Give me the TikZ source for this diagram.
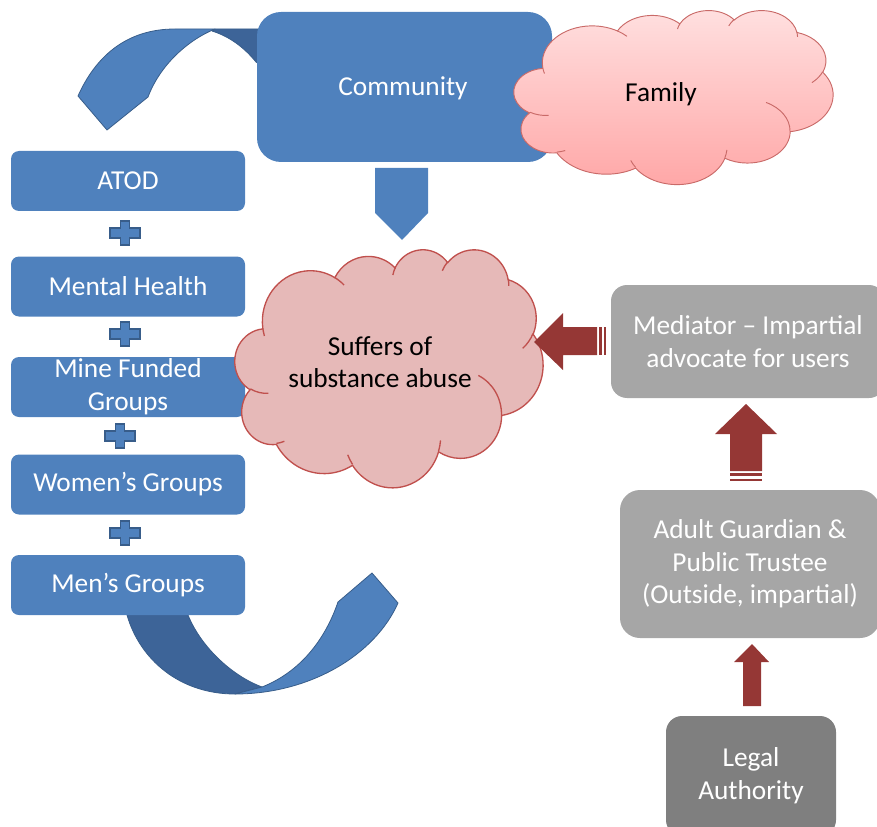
\documentclass[tikz,border=0pt]{standalone}
\usepackage{fontspec}
\setmainfont{Carlito}
\definecolor{pblue}{RGB}{79,129,189}
\definecolor{pbluedark}{RGB}{61,100,152}
\definecolor{pblueline}{RGB}{56,93,138}
\definecolor{pred}{RGB}{149,55,53}
\definecolor{pgray}{RGB}{166,166,166}
\definecolor{pgraydark}{RGB}{127,127,127}
\definecolor{cloudline}{RGB}{192,80,77}
\definecolor{cloudfill}{RGB}{230,185,184}
\definecolor{famtop}{RGB}{255,224,224}
\definecolor{fambot}{RGB}{255,166,166}
\newcommand\fs{\fontsize{20.5}{24.5}\selectfont}
\newcommand\cldarc[4]{arc[x radius=#1, y radius=#2, start angle={atan2(#1*sin(#3),#2*cos(#3))}, delta angle={mod(atan2(#1*sin(#3+#4),#2*cos(#3+#4))-atan2(#1*sin(#3),#2*cos(#3))+720,360)}]}
\newcommand\pptcloud[6]{%
\begin{scope}[shift={(#1,#2)},xscale=#3/432,yscale=#4/432]
\path[#5] (39,143.70) \cldarc{67.53}{91.90}{-190.4875}{123.7805}
 \cldarc{53.33}{72.67}{-144.1024}{89.9452}
 \cldarc{43.65}{59.45}{-145.8079}{99.7230}
 \cldarc{48.57}{65.95}{-130.9861}{117.2417}
 \cldarc{53.33}{72.73}{-78.7089}{109.0269}
 \cldarc{67.75}{92.20}{-46.2673}{130.2690}
 \cldarc{57.85}{78.67}{0.6250}{114.0333}
 \cldarc{67.52}{92.15}{22.4516}{115.1726}
 \cldarc{77.20}{105.43}{66.2426}{75.7110}
 \cldarc{43.60}{59.18}{-274.9421}{146.7356}
 \cldarc{43.45}{59.45}{-246.8285}{152.5170} -- cycle;
\path[#6] (46.93,261.77) \cldarc{43.45}{59.45}{86.7420}{26.4295}
 (69.28,348.99) \cldarc{43.60}{59.18}{73.6105}{11.4475}
 (164.78,390.90) \cldarc{67.52}{92.15}{137.6242}{14.0811}
 (288.27,347.51) \cldarc{67.52}{92.15}{6.4533}{15.9984}
 (341.29,229.54) \cldarc{57.85}{78.67}{-70.2924}{70.9174}
 (417.98,153.54) \cldarc{53.33}{72.73}{30.3180}{27.7515}
 (383.24,54.26) \cldarc{48.57}{65.95}{-13.7443}{14.8589}
 (290.78,39.52) \cldarc{48.57}{65.95}{-149.1815}{18.1954}
 (221.41,47.20) \cldarc{43.65}{59.45}{-163.4943}{17.6864}
 (140.00,51.92) \cldarc{67.53}{91.90}{-66.7070}{12.3194}
 (41.27,157.89) \cldarc{67.53}{91.90}{157.6544}{11.8582};
\end{scope}}
\tikzset{
  bluebox/.style={fill=pblue, rounded corners=6pt, text=white, font=\fs, align=center, inner sep=0pt,
    minimum width=234*0.75pt, minimum height=60*0.75pt},
  graybox/.style={fill=pgray, rounded corners=12pt, text=white, font=\fs, align=center, inner sep=0pt},
  ribbon/.style={fill=pblue, draw=pblueline, line width=0.6pt, line join=round},
  ribbondark/.style={fill=pbluedark, draw=pblueline, line width=0.6pt, line join=round},
  plusst/.style={fill=pblue, draw=pblueline, line width=0.8pt},
  redarrow/.style={fill=pred, draw=none},
  plusmark/.pic={\draw[plusst] (-4.5,-12) -- (4.5,-12) -- (4.5,-5) -- (15,-5) -- (15,5) -- (4.5,5) -- (4.5,12) -- (-4.5,12) -- (-4.5,5) -- (-15,5) -- (-15,-5) -- (-4.5,-5) -- cycle;},
  famcloud/.style={top color=famtop, bottom color=fambot, draw=cloudline!85, line width=0.7pt},
  famline/.style={draw=cloudline!85, line width=0.7pt},
  sufcloud/.style={fill=cloudfill, draw=cloudline, line width=1pt},
  sufline/.style={draw=cloudline, line width=1pt}
}
\begin{document}
\begin{tikzpicture}[x=0.75pt,y=-0.75pt]
\useasboundingbox (0,0) rectangle (877,827);
% top curved arrow
\path[ribbondark] (212,31) -- (215,29) -- (262,29) -- (262,66) -- (256,62) .. controls (243,46) and (228,36) .. (212,31) -- cycle;
\path[ribbon] (78,96) .. controls (95,58) and (125,29) .. (175,29) -- (215,29) .. controls (188,40) and (160,65) .. (148,97) -- (107,130) -- cycle;
% bottom curved arrow
\path[ribbondark] (127,605) -- (127,615) .. controls (140,660) and (180,694) .. (235,694) -- (262,687) .. controls (230,675) and (200,645) .. (188,615) -- (188,605) -- cycle;
\path[ribbon] (235,694) .. controls (310,694) and (375,655) .. (398,603) -- (372,573) -- (338,602) .. controls (325,640) and (300,672) .. (262,687) -- cycle;
% community
\node[fill=pblue, rounded corners=18pt, minimum width=295*0.75pt, minimum height=150*0.75pt, inner sep=0pt] (commbox) at (404.5,87) {};
\node[text=white, font=\fs, inner sep=0pt] (community) at (403,88) {Community};
% family cloud
\pptcloud{514}{10}{319}{174}{famcloud}{famline}
\node[font=\fs, inner sep=0pt] (family) at (661,94) {Family};
% down arrow
\path[fill=pblue] (375,168) -- (428,168) -- (428,213) -- (402,240) -- (375,213) -- cycle;
% left boxes
\node[bluebox] (atod) at (128,181) {ATOD};
\node[bluebox] (mental) at (128,286.5) {Mental Health};
\node[bluebox] (mine) at (128,387) {Mine Funded\\Groups};
\node[bluebox] (women) at (128,484.5) {Women’s Groups};
\node[bluebox] (men) at (128,585) {Men’s Groups};
\pic at (125,233) {plusmark};
\pic at (125,334) {plusmark};
\pic at (120,436) {plusmark};
\pic at (125,533) {plusmark};
% suffers cloud
\pptcloud{235}{249}{308}{238}{sufcloud}{sufline}
\node[font=\fs, align=center, inner sep=0pt] (suffers) at (380,362) {Suffers of\\substance abuse};
% left red arrow
\path[redarrow] (534,342) -- (563,313) -- (563,327) -- (597,327) -- (597,355) -- (563,355) -- (563,370) -- cycle;
\path[redarrow] (599,327) rectangle (601.5,355);
\path[redarrow] (603.5,327) rectangle (606,355);
% gray boxes
\node[graybox, minimum width=274*0.75pt, minimum height=113*0.75pt] (mediator) at (748,341.5) {Mediator – Impartial\\advocate for users};
\node[graybox, rounded corners=15pt, minimum width=260*0.75pt, minimum height=148*0.75pt] (guardian) at (750,564) {Adult Guardian \&\\Public Trustee\\(Outside, impartial)};
\node[graybox, fill=pgraydark, minimum width=170*0.75pt, minimum height=120*0.75pt] (legal) at (751,776) {Legal\\Authority};
% up arrows
\path[redarrow] (746,404) -- (777,434) -- (762,434) -- (762,471) -- (730,471) -- (730,434) -- (715,434) -- cycle;
\path[redarrow] (730,473) rectangle (762,476);
\path[redarrow] (730,478.5) rectangle (762,481);
\path[redarrow] (752,644) -- (769,662) -- (761,662) -- (761,706) -- (743,706) -- (743,662) -- (734,662) -- cycle;
\end{tikzpicture}
\end{document}
